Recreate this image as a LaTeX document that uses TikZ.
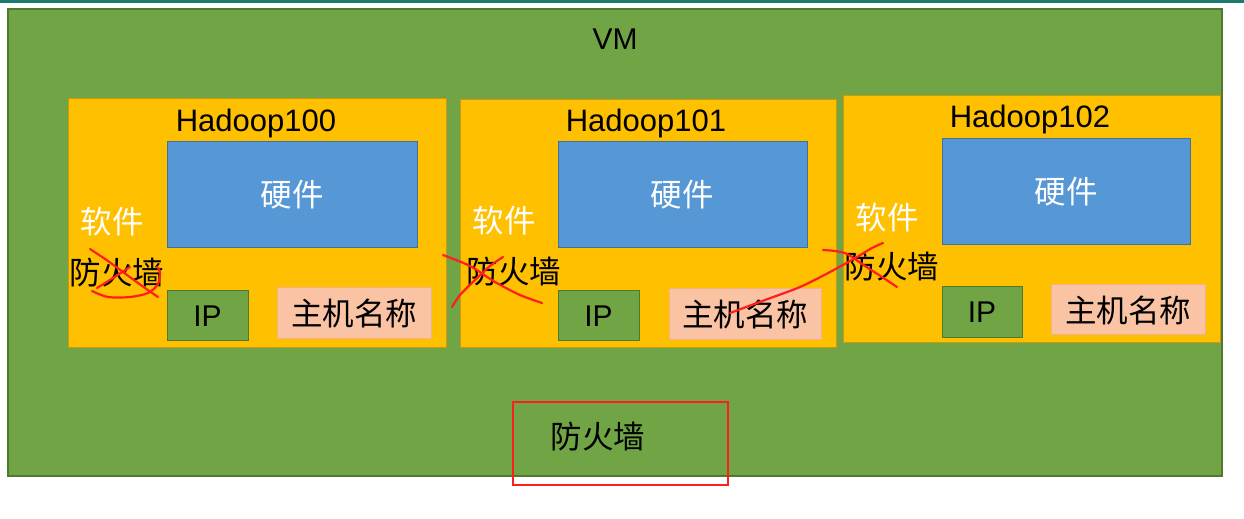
\documentclass[tikz,border=0pt]{standalone}
\usepackage{fontspec}
\setmainfont{Liberation Sans}
\newfontfamily\cjk{Noto Sans CJK SC}
\definecolor{vmgreen}{HTML}{70A444}
\definecolor{vmborder}{HTML}{4E7A30}
\definecolor{hdorange}{HTML}{FFC000}
\definecolor{hdborder}{HTML}{C99A10}
\definecolor{hwblue}{HTML}{5697D6}
\definecolor{hwborder}{HTML}{41719C}
\definecolor{hostpink}{HTML}{F9C3A4}
\definecolor{hostborder}{HTML}{F4B183}
\definecolor{topteal}{HTML}{1B7A6C}
\definecolor{scrib}{HTML}{FF1E1E}
\begin{document}
\begin{tikzpicture}[x={(1pt,0)},y={(0,-1pt)},
  vmbox/.style={fill=vmgreen,draw=vmborder,line width=1.2pt},
  hdbox/.style={fill=hdorange,draw=hdborder,line width=1pt},
  hwbox/.style={fill=hwblue,draw=hwborder,line width=1pt},
  ipbox/.style={fill=vmgreen,draw=vmborder,line width=1pt},
  hostbox/.style={fill=hostpink,draw=hostborder,line width=1pt},
  lat/.style={font=\fontsize{31}{31}\selectfont,text=black,inner sep=0pt,anchor=base},
  zh/.style={font=\cjk\fontsize{31.5}{31.5}\selectfont,inner sep=0pt},
  zhw/.style={zh,text=white},
  zhb/.style={zh,text=black},
  scr/.style={draw=scrib,line width=2.2pt,line cap=round,line join=round}]
\useasboundingbox (0,0) rectangle (1244,519);
\fill[white] (0,0) rectangle (1244,519);
\fill[topteal] (0,0) rectangle (1244,3);
% VM
\draw[vmbox] (8,9) rectangle (1222,476);
\node[lat,font=\fontsize{30}{30}\selectfont] (vm) at (615,49) {VM};
% Hadoop100
\draw[hdbox] (68,98) rectangle (446,347);
\node[lat] (h0) at (256,131) {Hadoop100};
\draw[hwbox] (167,141) rectangle (417,247);
\node[zhw] (hw0) at (292,195) {硬件};
\node[zhw] (sw0) at (112,222) {软件};
\node[zhb] (fw0) at (117,273) {防火墙};
\draw[ipbox] (167,290) rectangle (248,340);
\node[lat,anchor=center,font=\fontsize{30}{30}\selectfont] (ip0) at (207.5,316) {IP};
\draw[hostbox] (277,287) rectangle (431,338);
\node[zhb] (hn0) at (354,313) {主机名称};
% Hadoop101
\draw[hdbox] (460,99) rectangle (836,347);
\node[lat] (h1) at (646,131) {Hadoop101};
\draw[hwbox] (558,141) rectangle (807,247);
\node[zhw] (hw1) at (682,195) {硬件};
\node[zhw] (sw1) at (504,221) {软件};
\node[zhb] (fw1) at (514,272) {防火墙};
\draw[ipbox] (558,290) rectangle (639,340);
\node[lat,anchor=center,font=\fontsize{30}{30}\selectfont] (ip1) at (598.5,316) {IP};
\draw[hostbox] (669,288) rectangle (821,339);
\node[zhb] (hn1) at (745,314) {主机名称};
% Hadoop102
\draw[hdbox] (843,95) rectangle (1220,342);
\node[lat] (h2) at (1030,127) {Hadoop102};
\draw[hwbox] (942,138) rectangle (1190,244);
\node[zhw] (hw2) at (1066,192) {硬件};
\node[zhw] (sw2) at (887,218) {软件};
\node[zhb] (fw2) at (892,267) {防火墙};
\draw[ipbox] (942,286) rectangle (1022,337);
\node[lat,anchor=center,font=\fontsize{30}{30}\selectfont] (ip2) at (982,312) {IP};
\draw[hostbox] (1051,284) rectangle (1205,334);
\node[zhb] (hn2) at (1128,310) {主机名称};
% bottom firewall
\node[zhb] (fwb) at (598,437) {防火墙};
\draw[draw=scrib,line width=2.2pt] (513,402) rectangle (728,485);
% scribbles
\draw[scr] plot[smooth] coordinates {(90,249) (108,261) (127,275) (145,288) (158,297)};
\draw[scr] plot[smooth] coordinates {(97,288) (113,278) (130,267)};
\draw[scr] plot[smooth] coordinates {(92,291) (108,297) (130,297) (148,293) (158,284) (160,272) (157,267)};
\draw[scr] plot[smooth] coordinates {(443,255) (470,266) (495,282) (520,295) (542,303)};
\draw[scr] plot[smooth] coordinates {(503,257) (490,266) (475,280) (460,295) (452,307)};
\draw[scr] plot[smooth] coordinates {(730,313) (765,300) (800,287) (830,272) (857,257) (872,248) (883,243)};
\draw[scr] plot[smooth] coordinates {(823,250) (835,251) (847,254) (865,266) (882,277) (897,287)};
\end{tikzpicture}
\end{document}
